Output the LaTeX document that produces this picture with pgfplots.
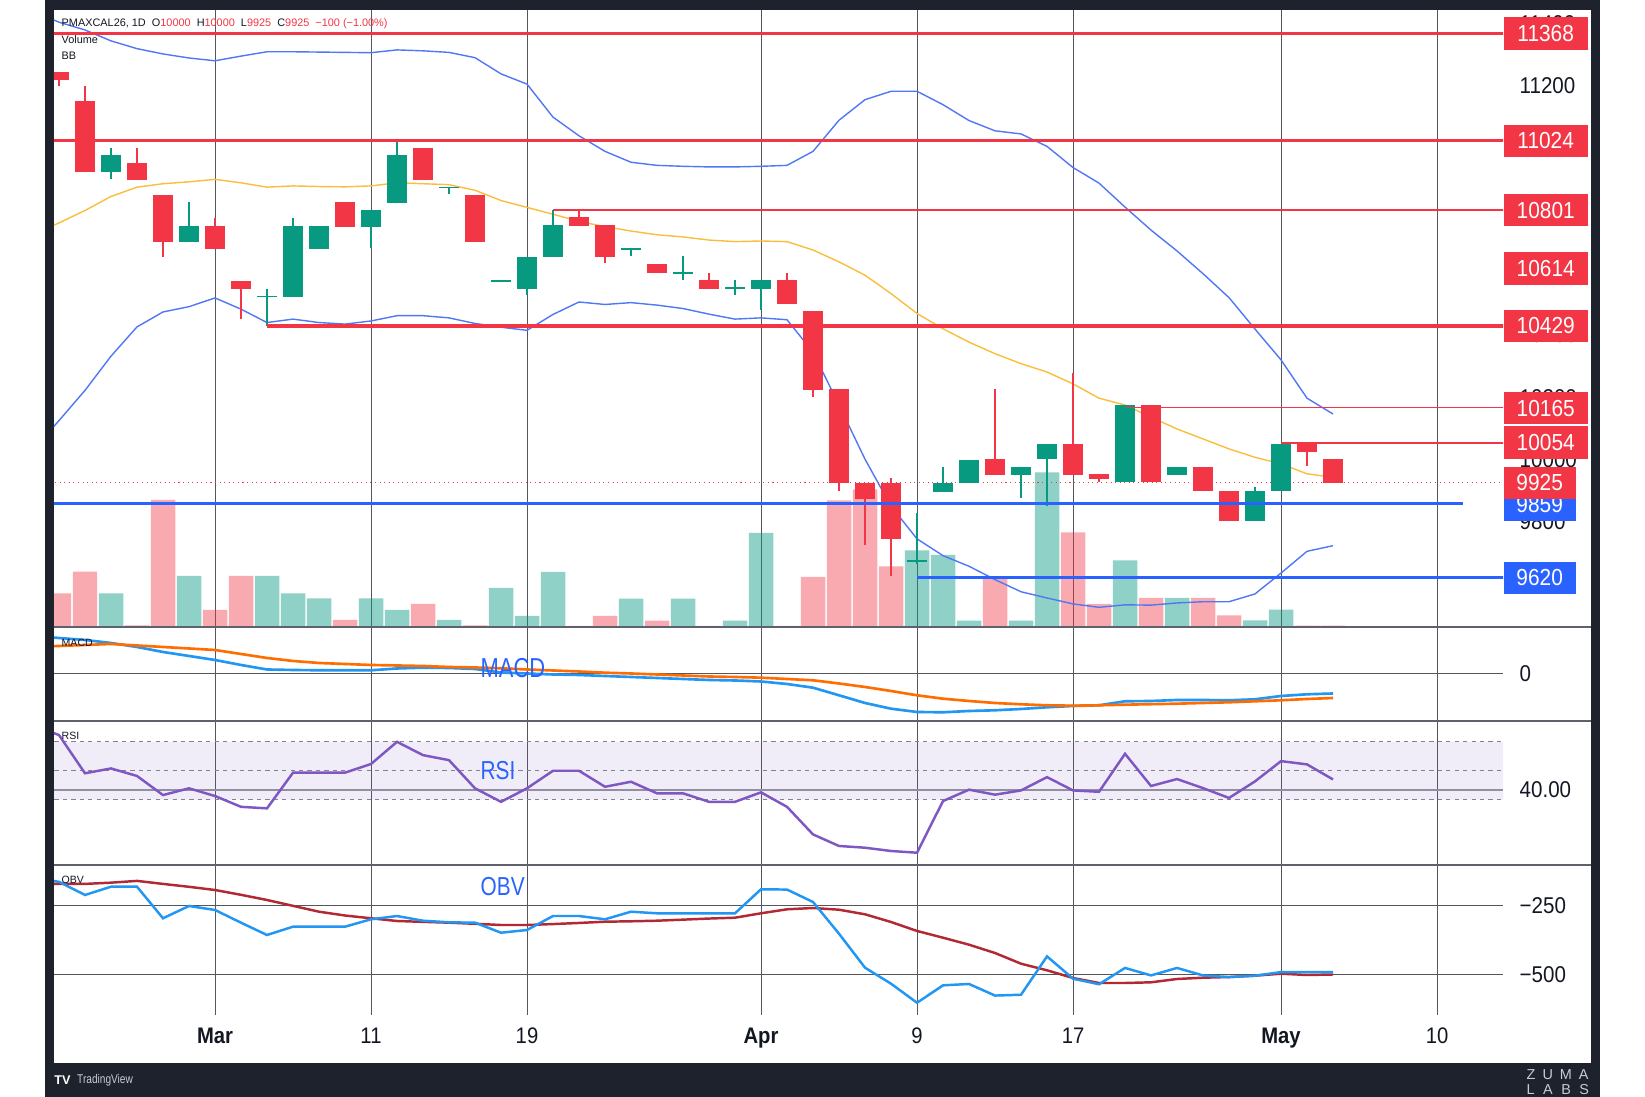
\documentclass[border=0pt]{standalone}
\usepackage{fontspec}
\usepackage{pgfplots}
\usepackage{pgfplotstable}
\pgfplotsset{compat=1.18}
\usepgfplotslibrary{fillbetween}
\setmainfont{Liberation Sans}
\newfontfamily\nar[FakeStretch=0.9]{Liberation Sans}
\newfontfamily\narr[FakeStretch=0.8]{Liberation Sans}

\definecolor{cRed}{RGB}{242,54,69}
\definecolor{cGreen}{RGB}{8,153,129}
\definecolor{cBlue}{RGB}{41,98,255}
\definecolor{frm}{RGB}{30,34,45}
\definecolor{gridc}{RGB}{85,85,92}
\definecolor{sepc}{RGB}{95,98,108}
\definecolor{bbline}{RGB}{80,120,245}
\definecolor{bbmid}{RGB}{250,190,60}
\definecolor{macdc}{RGB}{33,150,243}
\definecolor{sigc}{RGB}{255,109,0}
\definecolor{rsic}{RGB}{126,87,194}
\definecolor{obvma}{RGB}{178,40,51}
\definecolor{txt}{RGB}{19,23,34}
\definecolor{zuma}{RGB}{200,203,211}
\definecolor{dashc}{RGB}{130,130,140}
\definecolor{rsigrid}{RGB}{150,150,160}

% red candles: index open high low close volume(px)
\pgfplotstableread{
i o h l c v
0 11246 11246 11199 11220 33.5
1 11151 11200 10923 10923 55.3
3 10952 11000 10898 10898 1.5
4 10851 10851 10650 10698 127
6 10749 10776 10675 10675 17
7 10574 10574 10451 10548 51
11 10826 10826 10747 10747 7
14 11000 11000 10898 10898 23
16 10851 10851 10698 10698 1.5
20 10778 10802 10750 10750 1
21 10752 10752 10630 10651 11
23 10628 10628 10600 10600 6.3
25 10576 10600 10549 10549 1
28 10576 10600 10500 10500 1
29 10477 10477 10200 10223 50
30 10225 10225 9899 9924 126.7
31 9926 9926 9724 9872 137.7
32 9926 9939 9625 9745 60.7
36 10000 10225 9950 9950 50
39 10050 10278 9950 9950 94.7
40 9952 9952 9929 9937 23
42 10176 10176 9927 9927 29
44 9977 9977 9899 9899 29
45 9899 9899 9801 9801 11.7
48 10050 10050 9978 10025 1.3
49 10000 10000 9925 9925 1.3
}\redc

% green candles
\pgfplotstableread{
i o h l c v
2 10923 11000 10902 10978 33.5
5 10698 10828 10698 10749 51
8 10522 10548 10428 10526 51
9 10522 10776 10522 10749 33.5
10 10675 10749 10675 10749 28.7
12 10747 10802 10679 10802 28.7
13 10823 11024 10823 10978 17
15 10873 10877 10852 10877 7
17 10572 10576 10572 10576 39
18 10548 10650 10527 10650 11
19 10651 10802 10651 10752 55
22 10675 10679 10655 10679 28.3
24 10598 10654 10576 10602 28.3
26 10550 10576 10528 10554 6.3
27 10549 10576 10480 10576 94
33 9673 9829 9665 9677 76.7
34 9897 9977 9897 9926 72
35 9926 10000 9926 10000 6.3
37 9950 9975 9875 9975 6.3
38 10002 10050 9852 10050 154.5
41 9927 10176 9927 10176 66.7
43 9950 9977 9950 9977 29
46 9801 9913 9801 9899 6.7
47 9899 10050 9899 10050 17.3
}\greenc

% indicators
\pgfplotstableread{
i up mid lo macd sig rsi obv obvma
-1 11440 10725 10030 38 27 73.7 -150 -172
0 11405 10760 10125 36 28 68.5 -165 -172.5
1 11380 10800 10222 34 29 48.7 -212.7 -172.5
2 11345 10845 10332 31 30 51.2 -182.6 -168
3 11320 10875 10426 27 28.5 47.3 -182.6 -161.6
4 11303 10886 10474 22 27 37.4 -297 -172.5
5 11290 10892 10491 18 25.5 40.9 -252.5 -183
6 11281 10900 10519 14 24 36.9 -267 -194.6
7 11296 10889 10483 9 20 31.3 -313 -212
8 11310 10875 10440 4.5 16 30.5 -357.6 -230.8
9 11310 10879 10451 4 13 49.0 -327.5 -252
10 11309 10877 10440 3.7 11 49.0 -327.5 -273.2
11 11308 10876 10435 3.7 10 49.0 -327.5 -287
12 11307 10879 10445 3.7 9 53.5 -300.7 -297
13 11316 10889 10462 5.5 8.5 65.0 -288.8 -306.9
14 11313 10886 10462 6.3 8 58.1 -305.8 -310
15 11308 10883 10455 6 7 55.5 -311.6 -313
16 11291 10865 10437 5 6.5 40.9 -313 -317
17 11239 10832 10425 1.5 5.7 33.9 -349.3 -321.4
18 11206 10810 10415 0.5 4.5 40.9 -339.5 -321.4
19 11100 10788 10466 -0.5 3.5 50.0 -288.8 -318
20 11040 10765 10506 -1 2.5 50.0 -288.8 -314
21 10990 10748 10498 -2 1.3 41.7 -300.7 -309.4
22 10955 10734 10504 -3 0.5 44.3 -273.2 -308
23 10945 10722 10496 -4 -0.5 38.3 -279 -305.8
24 10942 10715 10485 -5 -1.5 38.3 -279 -302
25 10940 10705 10467 -6 -2.5 33.9 -279 -298
26 10940 10700 10451 -6.5 -3 33.9 -279 -294.9
27 10942 10702 10455 -7.5 -3.7 38.8 -192 -279
28 10945 10700 10449 -10 -5 31.3 -193 -264.5
29 10990 10673 10345 -13.7 -6.3 17.0 -238 -259.8
30 11090 10635 10175 -21.3 -9.5 11.0 -353 -266
31 11156 10592 10001 -29 -13 10.1 -476 -282.6
32 11183 10533 9850 -34.7 -17 8.4 -534 -310.5
33 11183 10469 9745 -38 -21.3 7.5 -603 -343
34 11140 10420 9691 -38.3 -24.7 34.3 -540 -367.4
35 11089 10377 9657 -37 -27 40.2 -535 -392.7
36 11056 10340 9614 -36.3 -29 37.6 -577 -422.8
37 11046 10308 9575 -35 -30.3 39.8 -574 -461.6
38 11006 10281 9555 -33.3 -31.3 46.7 -435 -485.5
39 10938 10243 9536 -32 -31.7 39.8 -516 -513.4
40 10888 10197 9525 -31.3 -31.3 39.1 -536 -531.5
41 10811 10175 9533 -27.3 -30.7 58.8 -477 -531.5
42 10737 10136 9532 -27 -30.2 42.1 -504 -529
43 10670 10098 9539 -26 -29.7 45.7 -477 -517
44 10597 10066 9543 -26 -29 41.0 -504 -512.3
45 10520 10034 9543 -26.3 -28.3 35.9 -510 -510
46 10419 10007 9568 -25.3 -27.3 44.5 -505 -505
47 10320 9986 9635 -22 -26.3 55.0 -492 -497.8
48 10197 9954 9705 -20.3 -25 53.3 -492 -502.5
49 10146 9943 9723 -19.5 -24 45.5 -492 -500.7
}\ind

\pgfplotsset{
  pane/.style={scale only axis, width=14.49cm, xmin=-0.1923, xmax=55.538,
    axis line style={draw=none}, major tick length=0pt, xtick=\empty,
    scaled x ticks=false, scaled y ticks=false,
    grid style={draw=gridc, line width=0.28pt},
    yticklabel pos=right,
    yticklabel style={font=\nar\fontsize{6.5}{7}\selectfont, anchor=west,
      inner sep=0pt, xshift=0.16cm, text=txt},
    anchor=south west},
  wick/.style={draw=none, mark=none, error bars/.cd, y dir=both, y explicit,
    error mark=none, error bar style={draw=#1, line width=0.4pt}},
  body/.style={draw=none, mark=none, error bars/.cd, y dir=both, y explicit,
    error mark=none, error bar style={draw=#1, line width=0.2cm}},
}

\begin{document}
\begin{tikzpicture}
\fill[white] (0,0) rectangle (16.45,10.97);
\fill[frm] (0.45,0) rectangle (16.00,10.97);
\fill[white] (0.54,0.34) rectangle (15.907,10.87);

% vertical grid and date labels
\begin{axis}[pane, at={(0.54cm,0.82cm)}, height=10.05cm, ymin=0, ymax=1, ytick=\empty,
  xtick={6,12,18,27,33,39,47,53}, xmajorgrids,
  xticklabels={\textbf{Mar},11,19,\textbf{Apr},9,17,\textbf{May},10},
  xticklabel style={font=\nar\fontsize{6.4}{7}\selectfont, anchor=base,
    inner sep=0pt, yshift=-0.29cm, text=txt}]
\end{axis}

% price pane background: grid, band fill, scale labels
\begin{axis}[pane, at={(0.54cm,4.70cm)}, height=6.17cm,
  ymin=9461.8, ymax=11444.2, ytick={9600,9800,...,11400}, ymajorgrids,
  yticklabels={9600,9800,10000,10200,10400,10600,10800,11000,11200,11400}]
\addplot[name path=up, draw=none] table[x=i,y=up]{\ind};
\addplot[name path=lo, draw=none] table[x=i,y=lo]{\ind};
\addplot[draw=none, fill=macdc, fill opacity=0.06] fill between[of=up and lo];
\end{axis}

% volume
\begin{axis}[pane, at={(0.54cm,4.70cm)}, height=6.17cm, ymin=0, ymax=617, ytick=\empty]
\addplot[ybar, bar width=0.245cm, bar shift=0pt, draw=none, fill=cRed, fill opacity=0.42]
  table[x=i, y=v]{\redc};
\addplot[ybar, bar width=0.245cm, bar shift=0pt, draw=none, fill=cGreen, fill opacity=0.45]
  table[x=i, y=v]{\greenc};
\end{axis}

% price pane: bands, candles, levels
\begin{axis}[pane, at={(0.54cm,4.70cm)}, height=6.17cm,
  ymin=9461.8, ymax=11444.2, ytick=\empty]
\addplot[bbline, line width=0.4pt] table[x=i,y=up]{\ind};
\addplot[bbline, line width=0.4pt] table[x=i,y=lo]{\ind};
\addplot[bbmid, line width=0.4pt] table[x=i,y=mid]{\ind};
\addplot[cRed, densely dotted, line width=0.3pt] coordinates {(-0.5,9925) (56,9925)};
\addplot[wick=cRed] table[x=i, y expr={(\thisrow{h}+\thisrow{l})/2}, y error expr={(\thisrow{h}-\thisrow{l})/2}]{\redc};
\addplot[wick=cGreen] table[x=i, y expr={(\thisrow{h}+\thisrow{l})/2}, y error expr={(\thisrow{h}-\thisrow{l})/2}]{\greenc};
\addplot[body=cRed] table[x=i, y expr={(\thisrow{o}+\thisrow{c})/2}, y error expr={abs(\thisrow{o}-\thisrow{c})/2}]{\redc};
\addplot[body=cGreen] table[x=i, y expr={(\thisrow{o}+\thisrow{c})/2}, y error expr={abs(\thisrow{o}-\thisrow{c})/2}]{\greenc};
\addplot[cRed, line width=0.9pt] coordinates {(-0.5,11368) (56,11368)};
\addplot[cRed, line width=0.9pt] coordinates {(-0.5,11024) (56,11024)};
\addplot[cRed, line width=0.5pt] coordinates {(19,10801) (56,10801)};
\addplot[cRed, line width=0.9pt] coordinates {(8,10429) (56,10429)};
\addplot[cRed, line width=0.5pt] coordinates {(41,10167) (56,10167)};
\addplot[cRed, line width=0.5pt] coordinates {(47,10054) (56,10054)};
\addplot[cBlue, line width=0.95pt] coordinates {(-0.5,9859) (54,9859)};
\addplot[cBlue, line width=0.95pt] coordinates {(33,9620) (56,9620)};
\end{axis}

% price label boxes
\begin{axis}[pane, at={(0.54cm,4.70cm)}, height=6.17cm, ymin=9461.8, ymax=11444.2,
  ytick=\empty, clip=false]
\tikzset{bx/.style={fill=#1, text=white, minimum height=0.325cm, inner sep=0pt,
  anchor=west, font=\nar\fontsize{6.6}{7}\selectfont}}
\node[bx=cRed, minimum width=0.84cm] at (axis cs:55.538,11368) {11368};
\node[bx=cRed, minimum width=0.84cm] at (axis cs:55.538,11024) {11024};
\node[bx=cRed, minimum width=0.84cm] at (axis cs:55.538,10801) {10801};
\node[bx=cRed, minimum width=0.84cm] at (axis cs:55.538,10614) {10614};
\node[bx=cRed, minimum width=0.84cm] at (axis cs:55.538,10429) {10429};
\node[bx=cRed, minimum width=0.84cm] at (axis cs:55.538,10165) {10165};
\node[bx=cRed, minimum width=0.84cm] at (axis cs:55.538,10054) {10054};
\node[bx=cBlue, minimum width=0.72cm] at (axis cs:55.538,9855) {9859};
\node[bx=cRed, minimum width=0.72cm] at (axis cs:55.538,9925) {9925};
\node[bx=cBlue, minimum width=0.72cm] at (axis cs:55.538,9620) {9620};
\end{axis}

% MACD pane
\begin{axis}[pane, at={(0.54cm,3.76cm)}, height=0.94cm, ymin=-47, ymax=47,
  ytick={0}, yticklabels={0}, ymajorgrids]
\addplot[macdc, line width=0.75pt] table[x=i,y=macd]{\ind};
\addplot[sigc, line width=0.75pt] table[x=i,y=sig]{\ind};
\end{axis}

% RSI pane
\begin{axis}[pane, at={(0.54cm,2.32cm)}, height=1.44cm, ymin=1.14, ymax=75.8,
  ytick={40}, yticklabels={40.00}, ymajorgrids,
  grid style={draw=rsigrid, line width=0.5pt}]
\addplot[draw=none, fill=rsic, fill opacity=0.1] coordinates {(-0.5,35) (56,35) (56,65) (-0.5,65) (-0.5,35)};
\addplot[dashc, dash pattern=on 1.2pt off 1.2pt, line width=0.35pt] coordinates {(-0.5,65) (56,65)};
\addplot[dashc, dash pattern=on 1.2pt off 1.2pt, line width=0.35pt] coordinates {(-0.5,50) (56,50)};
\addplot[dashc, dash pattern=on 1.2pt off 1.2pt, line width=0.35pt] coordinates {(-0.5,35) (56,35)};
\addplot[rsic, line width=0.7pt] table[x=i,y=rsi]{\ind};
\end{axis}

% OBV pane
\begin{axis}[pane, at={(0.54cm,0.82cm)}, height=1.50cm, ymin=-647.4, ymax=-104,
  ytick={-500,-250}, yticklabels={−500,−250}, ymajorgrids]
\addplot[obvma, line width=0.7pt] table[x=i,y=obvma]{\ind};
\addplot[macdc, line width=0.7pt] table[x=i,y=obv]{\ind};
\end{axis}

% pane separators
\draw[sepc, line width=0.5pt] (0.54,4.70) -- (15.907,4.70);
\draw[sepc, line width=0.5pt] (0.54,3.76) -- (15.907,3.76);
\draw[sepc, line width=0.5pt] (0.54,2.32) -- (15.907,2.32);

% header texts
\node[anchor=west, inner sep=0pt, font=\fontsize{3.1}{3.5}\selectfont, text=txt] at (0.61,10.737)
  {PMAXCAL26, 1D\ \ O{\color{cRed}10000}\ \ H{\color{cRed}10000}\ \ L{\color{cRed}9925}\ \ C{\color{cRed}9925}\ \ {\color{cRed}−100 (−1.00\%)}};
\node[anchor=west, inner sep=0pt, font=\fontsize{3.1}{3.5}\selectfont, text=txt] at (0.61,10.57) {Volume};
\node[anchor=west, inner sep=0pt, font=\fontsize{3.1}{3.5}\selectfont, text=txt] at (0.61,10.41) {BB};
\node[anchor=west, inner sep=0pt, font=\fontsize{3}{3.5}\selectfont, text=txt] at (0.61,4.545) {MACD};
\node[anchor=west, inner sep=0pt, font=\fontsize{3}{3.5}\selectfont, text=txt] at (0.61,3.61) {RSI};
\node[anchor=west, inner sep=0pt, font=\fontsize{3}{3.5}\selectfont, text=txt] at (0.61,2.17) {OBV};

% big indicator names
\node[anchor=west, inner sep=0pt, font=\narr\fontsize{7.8}{8}\selectfont, text=cBlue] at (4.80,4.29) {MACD};
\node[anchor=west, inner sep=0pt, font=\narr\fontsize{7.4}{8}\selectfont, text=cBlue] at (4.80,3.263) {RSI};
\node[anchor=west, inner sep=0pt, font=\narr\fontsize{7.4}{8}\selectfont, text=cBlue] at (4.80,2.103) {OBV};

% footer
\node[anchor=west, inner sep=0pt, font=\bfseries\fontsize{3.6}{4}\selectfont, text=white] at (0.536,0.17) {TV};
\node[anchor=west, inner sep=0pt, font=\narr\fontsize{3.6}{4}\selectfont, text=zuma] at (0.765,0.17) {TradingView};
\node[anchor=west, inner sep=0pt, font=\fontsize{4.1}{5}\selectfont, text=zuma] at (15.26,0.225) {Z\hspace{0.07cm}U\hspace{0.07cm}M\hspace{0.07cm}A};
\node[anchor=west, inner sep=0pt, font=\fontsize{4.1}{5}\selectfont, text=zuma] at (15.26,0.075) {L\hspace{0.085cm}A\hspace{0.085cm}B\hspace{0.085cm}S};
\end{tikzpicture}
\end{document}
